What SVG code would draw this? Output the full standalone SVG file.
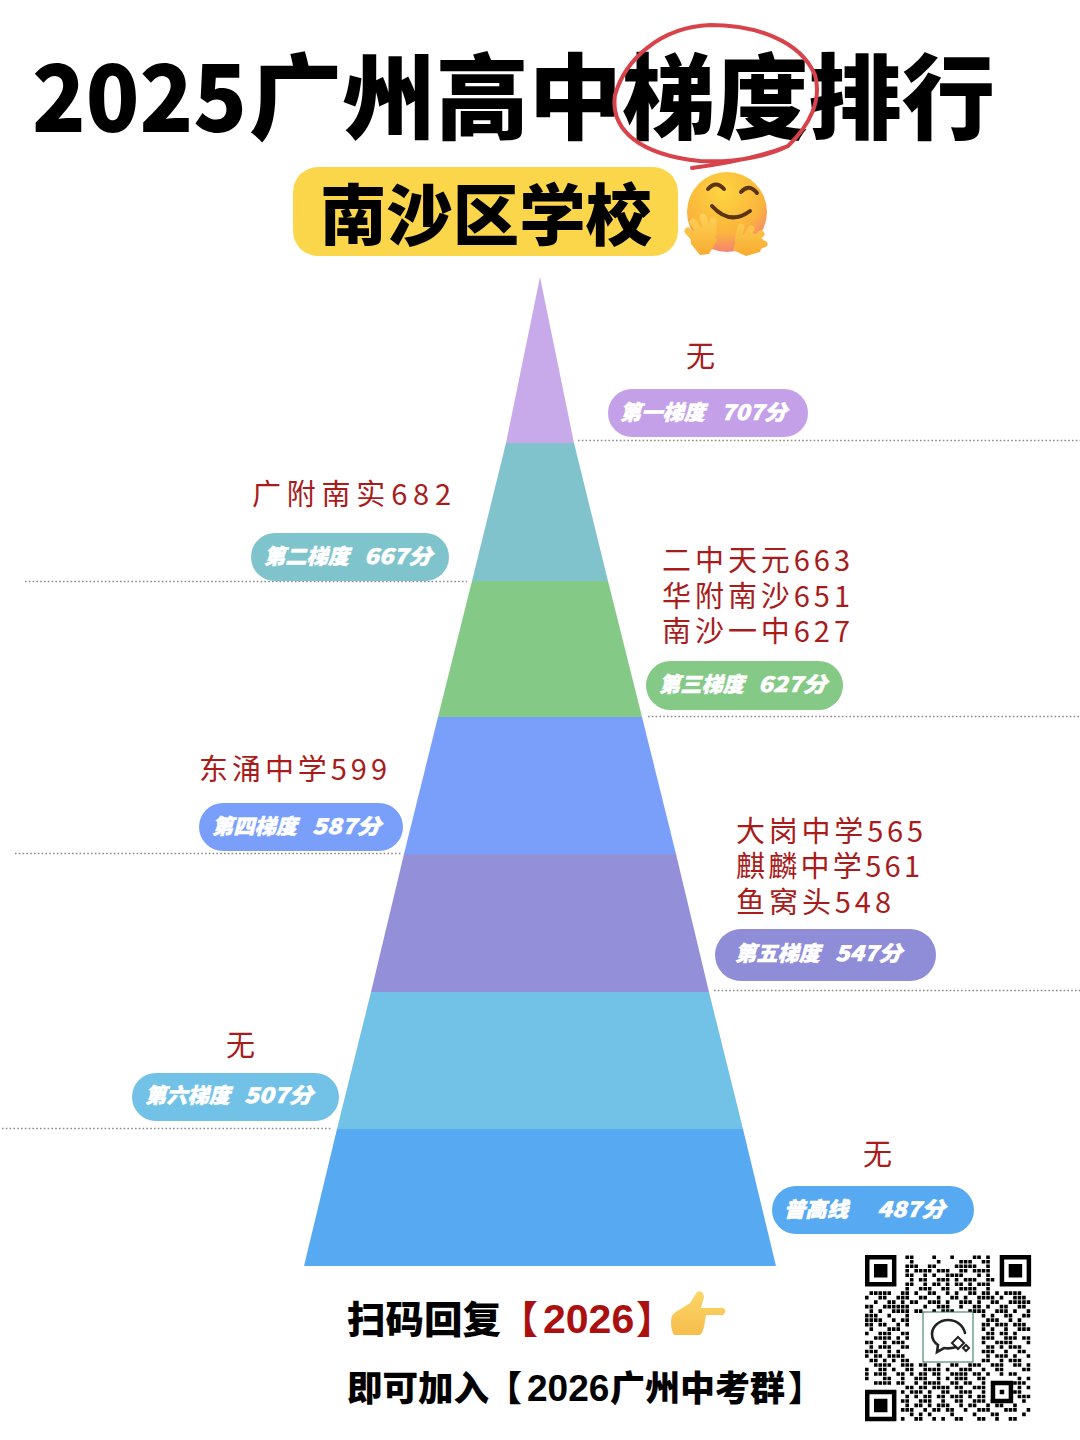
<svg xmlns="http://www.w3.org/2000/svg" width="1080" height="1440" viewBox="0 0 1080 1440">
<style>
text{font-family:"Noto Sans CJK SC","Noto Sans",sans-serif}
.h{font-weight:900;fill:#000}
.r{font-size:29px;fill:#a81c1c;font-weight:400}
.p{font-size:21px;font-weight:900;fill:#fff;font-style:italic}
.s{font-size:21px;font-weight:900;fill:#fff;font-style:italic;stroke:#fff;stroke-width:.5}
.n{font-family:"Liberation Sans",sans-serif;font-weight:700}
.d{stroke:#8a8a8a;stroke-width:1.6;stroke-dasharray:1.6 2.2;fill:none}
.c{stroke:#d8434b;stroke-width:4;fill:none;stroke-linecap:round}
.fg{fill:none;stroke:url(#hand);stroke-width:7;stroke-linecap:round}
</style>
<defs>
<radialGradient id="f" cx=".45" cy=".25" r=".85"><stop offset="0" stop-color="#fdd53f"/><stop offset=".6" stop-color="#fbb43c"/><stop offset="1" stop-color="#f2708a"/></radialGradient>
<linearGradient id="hand" gradientUnits="userSpaceOnUse" x1="0" y1="210" x2="0" y2="258"><stop offset="0" stop-color="#ffd65a"/><stop offset="1" stop-color="#f6a92e"/></linearGradient>
<linearGradient id="pt" x1="0" y1="0" x2="0" y2="1"><stop offset="0" stop-color="#fbd667"/><stop offset="1" stop-color="#f6bd4c"/></linearGradient>
</defs>
<rect width="1080" height="1440" fill="#fff"/>
<g id="title">
<text class="h" x="32" y="132" font-size="93" textLength="215" lengthAdjust="spacingAndGlyphs">2025</text>
<text class="h" x="249" y="132" font-size="93" textLength="746" lengthAdjust="spacingAndGlyphs">广州高中梯度排行</text>
<path class="c" d="M788 146C810 125 822 100 815 75C800 40 755 25 710 25C660 27 625 60 615 95C610 130 640 155 700 161C740 163 770 155 788 146M692 168C730 163 765 155 788 146"/>
</g>
<g id="subtitle">
<rect x="293" y="167" width="385" height="89" rx="25" fill="#fcd64a"/>
<text class="h" x="320" y="240" font-size="67" textLength="332" lengthAdjust="spacingAndGlyphs">南沙区学校</text>
<g id="hug-emoji">
<circle cx="727" cy="212" r="40" fill="url(#f)"/>
<path d="M708 189q8-9 16 0M741 192q8-9 16 1M712 206q18 20 38 5" fill="none" stroke="#5a3414" stroke-width="4" stroke-linecap="round"/>
<path d="M690 232l18-6 9 14-8 14-9 1-9-11z" fill="url(#hand)"/>
<path class="fg" d="M688 231l6 7M693 222l8 11M703 217l4 13M713 221l0 13"/>
<path d="M733 250l4-14 16-3 11 7-4 12-14 4z" fill="url(#hand)"/>
<path class="fg" d="M741 227l-3 12M751 229l-5 9M761 234l-9 7M764 244l-10 3"/>
</g>
</g>
<g id="connectors">
<path class="d" d="M578 440.5H1080"/>
<path class="d" d="M25 581.5H467"/>
<path class="d" d="M648 716.5H1080"/>
<path class="d" d="M15 853.5H401"/>
<path class="d" d="M714 990.5H1080"/>
<path class="d" d="M2 1128.5H331"/>
</g>
<g id="pyramid">
<path d="M540 277L574 443H506z" fill="#c8a9ea"/>
<path d="M506 443H574L608 581H472z" fill="#80c3cc"/>
<path d="M472 581H608L642 717H438z" fill="#85c987"/>
<path d="M438 717H642L676 854H404z" fill="#7a9ffb"/>
<path d="M404 854H676L709 992H371z" fill="#9390d9"/>
<path d="M371 992H709L743 1129H337z" fill="#72c1e6"/>
<path d="M337 1129H743L776 1266H304z" fill="#57a9f1"/>
</g>
<g id="tier-1">
<text class="r" x="686" y="367">无</text>
<rect x="608" y="389" width="200" height="48" rx="24" fill="#c3a0e8"/>
<text class="s" x="620" y="420" textLength="85" lengthAdjust="spacingAndGlyphs">第一梯度</text>
<text class="s" x="721" y="420" textLength="66" lengthAdjust="spacingAndGlyphs">707分</text>
</g>
<g id="tier-2">
<text class="r" x="252" y="505" textLength="199">广附南实682</text>
<rect x="251" y="533" width="198" height="48" rx="24" fill="#7fc4cc"/>
<text class="s" x="264" y="564" textLength="85" lengthAdjust="spacingAndGlyphs">第二梯度</text>
<text class="s" x="364" y="564" textLength="68" lengthAdjust="spacingAndGlyphs">667分</text>
</g>
<g id="tier-3">
<text class="r" x="662" y="571" textLength="188">二中天元663</text>
<text class="r" x="662" y="607" textLength="188">华附南沙651</text>
<text class="r" x="662" y="642" textLength="188">南沙一中627</text>
<rect x="646" y="661" width="197" height="49" rx="24.5" fill="#85c987"/>
<text class="s" x="659" y="692" textLength="85" lengthAdjust="spacingAndGlyphs">第三梯度</text>
<text class="s" x="758" y="692" textLength="69" lengthAdjust="spacingAndGlyphs">627分</text>
</g>
<g id="tier-4">
<text class="r" x="199" y="780" textLength="188">东涌中学599</text>
<rect x="199" y="803" width="204" height="48" rx="24" fill="#7a9ffb"/>
<text class="s" x="212" y="834" textLength="85" lengthAdjust="spacingAndGlyphs">第四梯度</text>
<text class="s" x="312" y="834" textLength="69" lengthAdjust="spacingAndGlyphs">587分</text>
</g>
<g id="tier-5">
<text class="r" x="736" y="842" textLength="187">大岗中学565</text>
<text class="r" x="736" y="877" textLength="184">麒麟中学561</text>
<text class="r" x="736" y="913" textLength="155">鱼窝头548</text>
<rect x="715" y="929" width="221" height="52" rx="26" fill="#8f8cd8"/>
<text class="s" x="735" y="961" textLength="85" lengthAdjust="spacingAndGlyphs">第五梯度</text>
<text class="s" x="835" y="961" textLength="67" lengthAdjust="spacingAndGlyphs">547分</text>
</g>
<g id="tier-6">
<text class="r" x="226" y="1056">无</text>
<rect x="132" y="1073" width="207" height="48" rx="24" fill="#72c1e6"/>
<text class="s" x="145" y="1103" textLength="85" lengthAdjust="spacingAndGlyphs">第六梯度</text>
<text class="s" x="244" y="1103" textLength="69" lengthAdjust="spacingAndGlyphs">507分</text>
</g>
<g id="tier-7">
<text class="r" x="863" y="1165">无</text>
<rect x="772" y="1186" width="202" height="48" rx="24" fill="#57a9f1"/>
<text class="s" x="784" y="1217" textLength="64" lengthAdjust="spacingAndGlyphs">普高线</text>
<text class="s" x="877" y="1217" textLength="68" lengthAdjust="spacingAndGlyphs">487分</text>
</g>
<g id="cta">
<text class="h" x="347" y="1333" font-size="38" textLength="154" lengthAdjust="spacingAndGlyphs">扫码回复</text>
<text x="500" y="1333" font-size="38" font-weight="900" fill="#ab1010">【</text>
<text class="n" x="543" y="1333" font-size="41" fill="#ab1010">2026</text>
<text x="636" y="1333" font-size="38" font-weight="900" fill="#ab1010">】</text>
<text class="h" x="347" y="1401" font-size="35" textLength="142" lengthAdjust="spacingAndGlyphs">即可加入</text>
<text class="h" x="487" y="1401" font-size="35">【</text>
<text class="n" x="527" y="1401" font-size="37">2026</text>
<text class="h" x="610" y="1401" font-size="35">广州中考群</text>
<text class="h" x="788" y="1401" font-size="35">】</text>
<path id="hand-emoji" d="M671 1322q0-9 8-12l11-7 7-11q3-2 6 1l1 4-3 11h22q5 3 0 7h-17l-1 6q-1 10-5 14h-26q-3-5-3-13z" fill="url(#pt)"/>
</g>
<g id="qr" transform="translate(865 1255) scale(4.49)">
<path fill-rule="evenodd" d="M0 0h7v7H0zM1 1v5h5V1zM2 2h3v3H2zM30 0h7v7h-7zM31 1v5h5V1zM32 2h3v3h-3zM0 30h7v7H0zM1 31v5h5v-5zM2 32h3v3H2zM28 28h5v5h-5zM29 29v3h3v-3zM30 30h1v1h-1z" fill="#000"/>
<path fill="none" stroke="#000" stroke-width=".8" stroke-dasharray=".8 .2" d="M9 .5h2M15 .5h1M19 .5h1M24 .5h2M27 .5h1M10 1.5h1M16 1.5h1M21 1.5h3M26 1.5h2M9 2.5h3M14 2.5h2M20 2.5h5M27 2.5h1M9 3.5h1M11 3.5h4M16 3.5h3M21 3.5h2M24 3.5h4M9 4.5h2M13 4.5h1M15 4.5h1M18 4.5h4M25 4.5h1M27 4.5h1M10 5.5h1M12 5.5h2M16 5.5h3M20 5.5h1M22 5.5h3M27 5.5h2M9 6.5h2M13 6.5h1M15 6.5h2M18 6.5h1M20 6.5h2M23 6.5h1M25 6.5h3M9 7.5h1M12 7.5h3M17 7.5h2M21 7.5h4M27 7.5h1M1 8.5h5M8 8.5h2M11 8.5h1M14 8.5h2M18 8.5h1M20 8.5h1M23 8.5h2M26 8.5h2M29 8.5h1M31 8.5h4M0 9.5h1M3 9.5h2M7 9.5h3M12 9.5h2M16 9.5h1M19 9.5h2M22 9.5h1M25 9.5h4M30 9.5h1M33 9.5h3M2 10.5h1M5 10.5h2M8 10.5h1M10 10.5h2M14 10.5h3M18 10.5h1M21 10.5h3M25 10.5h1M28 10.5h2M32 10.5h5M0 11.5h2M4 11.5h6M13 11.5h1M16 11.5h3M21 11.5h1M24 11.5h2M27 11.5h1M30 11.5h2M34 11.5h2M1 12.5h1M3 12.5h1M6 12.5h4M11 12.5h2M15 12.5h1M17 12.5h3M23 12.5h4M29 12.5h3M33 12.5h1M36 12.5h1M0 13.5h3M5 13.5h1M9 13.5h1M26 13.5h1M28 13.5h1M31 13.5h2M35 13.5h2M0 14.5h4M6 14.5h1M8 14.5h2M27 14.5h3M32 14.5h1M34 14.5h1M0 15.5h2M3 15.5h2M7 15.5h1M9 15.5h1M26 15.5h2M29 15.5h3M33 15.5h3M1 16.5h1M5 16.5h3M26 16.5h1M28 16.5h1M31 16.5h1M34 16.5h3M0 17.5h1M3 17.5h3M8 17.5h2M27 17.5h2M30 17.5h2M33 17.5h1M2 18.5h4M7 18.5h1M9 18.5h1M26 18.5h3M31 18.5h3M35 18.5h2M0 19.5h2M4 19.5h1M6 19.5h3M26 19.5h1M29 19.5h4M36 19.5h1M1 20.5h1M3 20.5h3M8 20.5h2M27 20.5h2M30 20.5h1M32 20.5h3M0 21.5h3M5 21.5h1M7 21.5h1M26 21.5h3M31 21.5h1M34 21.5h2M0 22.5h1M2 22.5h2M5 22.5h4M27 22.5h1M29 22.5h3M33 22.5h1M36 22.5h1M1 23.5h2M4 23.5h1M6 23.5h1M8 23.5h2M26 23.5h2M30 23.5h1M32 23.5h3M2 24.5h4M8 24.5h3M12 24.5h2M16 24.5h1M19 24.5h2M23 24.5h3M28 24.5h3M33 24.5h2M36 24.5h1M0 25.5h1M3 25.5h2M6 25.5h1M9 25.5h2M13 25.5h4M18 25.5h1M21 25.5h3M26 25.5h1M29 25.5h2M35 25.5h2M0 26.5h1M2 26.5h3M7 26.5h2M10 26.5h1M12 26.5h2M15 26.5h2M19 26.5h4M24 26.5h2M27 26.5h1M30 26.5h1M32 26.5h2M0 27.5h1M4 27.5h2M8 27.5h1M11 27.5h3M16 27.5h1M18 27.5h1M20 27.5h3M25 27.5h2M34 27.5h1M36 27.5h1M2 28.5h4M7 28.5h2M11 28.5h1M13 28.5h4M19 28.5h2M22 28.5h2M26 28.5h1M33 28.5h3M9 29.5h2M12 29.5h2M15 29.5h4M20 29.5h2M24 29.5h3M34 29.5h1M36 29.5h1M8 30.5h1M10 30.5h3M14 30.5h1M17 30.5h2M21 30.5h3M26 30.5h1M33 30.5h2M9 31.5h1M11 31.5h1M13 31.5h2M16 31.5h2M19 31.5h3M23 31.5h1M25 31.5h2M34 31.5h3M8 32.5h2M12 32.5h3M17 32.5h1M20 32.5h2M24 32.5h3M28 32.5h5M35 32.5h1M9 33.5h1M11 33.5h2M14 33.5h1M16 33.5h3M21 33.5h1M23 33.5h2M27 33.5h1M29 33.5h2M33 33.5h1M8 34.5h3M13 34.5h1M15 34.5h2M18 34.5h2M22 34.5h1M25 34.5h3M31 34.5h3M36 34.5h1M10 35.5h1M12 35.5h1M14 35.5h1M19 35.5h1M24 35.5h1M28 35.5h2M35 35.5h1M8 36.5h1M11 36.5h2M15 36.5h1M17 36.5h1M20 36.5h2M25 36.5h2M29 36.5h1M32 36.5h2"/>
</g>
<g id="qr-logo">
<rect x="923" y="1312" width="50" height="50" fill="#fff" stroke="#2f6f5e" stroke-width="1"/>
<path d="M956 1347q-6 2-12 1l-7 4 1-7q-6-4-6-11c0-8 8-14 16-14s15 5 17 13" fill="none" stroke="#222" stroke-width="2.6" stroke-linecap="round"/>
<path d="M958 1337l6 6-6 6-6-6zM966 1345l3 3-3 3-3-3z" fill="none" stroke="#222" stroke-width="2"/>
</g>
</svg>
